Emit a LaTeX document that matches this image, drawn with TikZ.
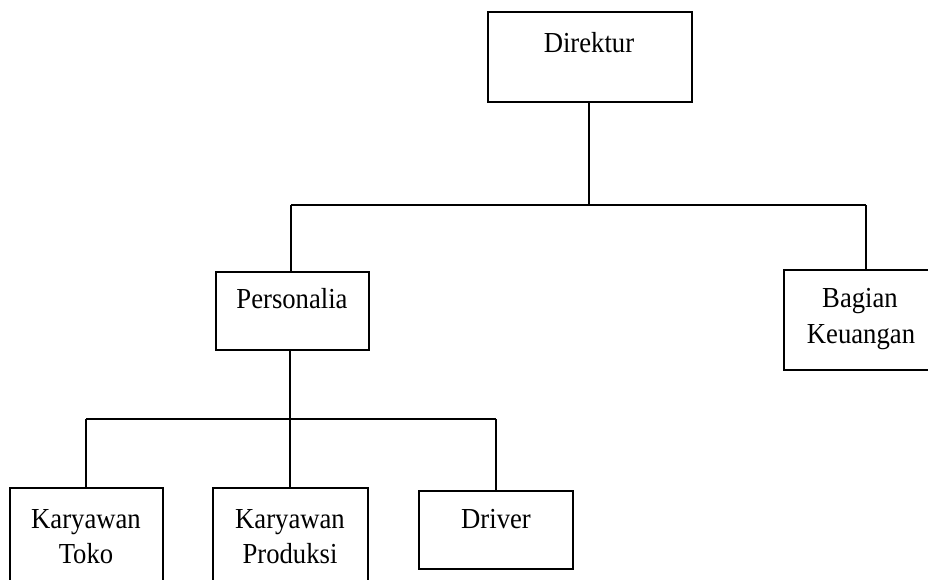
\documentclass[tikz,border=0pt]{standalone}
\usepackage{fontspec}
\setmainfont{Liberation Serif}[FakeStretch=0.92]
\begin{document}
\begin{tikzpicture}[x=1pt,y=-1pt,
  box/.style={draw=black, line width=1.8pt, rectangle, inner sep=0pt, minimum width=153pt},
  lbl/.style={anchor=base, inner sep=0pt, font=\fontsize{29}{35}\selectfont},
  wire/.style={draw=black, line width=1.6pt}]
  \useasboundingbox (0,0) rectangle (928,580);
  \clip (0,0) rectangle (928,580);

  % boxes
  \node[box, minimum width=204pt, minimum height=90pt] (dir) at (590,57) {};
  \node[box, minimum height=78pt] (pers) at (292.5,311) {};
  \node[box, minimum width=154pt, minimum height=100pt] (keu) at (861,320) {};
  \node[box, minimum height=130pt] (toko) at (86.5,553) {};
  \node[box, minimum width=155pt, minimum height=130pt] (prod) at (290.5,553) {};
  \node[box, minimum width=154pt, minimum height=78pt] (drv) at (496,530) {};

  % labels
  \node[lbl] (tdir) at (589,53) {Direktur};
  \node[lbl] (tpers) at (292,308) {Personalia};
  \node[lbl] (tkeu1) at (860,307) {Bagian};
  \node[lbl] (tkeu2) at (861,343) {Keuangan};
  \node[lbl] (ttoko1) at (86,528) {Karyawan};
  \node[lbl] (ttoko2) at (86,563) {Toko};
  \node[lbl] (tprod1) at (290,528) {Karyawan};
  \node[lbl] (tprod2) at (290,563) {Produksi};
  \node[lbl] (tdrv) at (496,528) {Driver};

  % junction points of the two buses
  \coordinate (b1) at (589,205);
  \coordinate (b1l) at (291,205);
  \coordinate (b1r) at (866,205);
  \coordinate (b2) at (290,419);
  \coordinate (b2l) at (86,419);
  \coordinate (b2r) at (496,419);

  % upper level
  \draw[wire] (dir.south -| b1) -- (b1);
  \draw[wire] (b1l) -- (b1r);
  \draw[wire] (b1l) -- (b1l |- pers.north);
  \draw[wire] (b1r) -- (b1r |- keu.north);

  % lower level
  \draw[wire] (pers.south -| b2) -- (b2);
  \draw[wire] (b2l) -- (b2r);
  \draw[wire] (b2l) -- (b2l |- toko.north);
  \draw[wire] (b2) -- (b2 |- prod.north);
  \draw[wire] (b2r) -- (b2r |- drv.north);
\end{tikzpicture}
\end{document}
